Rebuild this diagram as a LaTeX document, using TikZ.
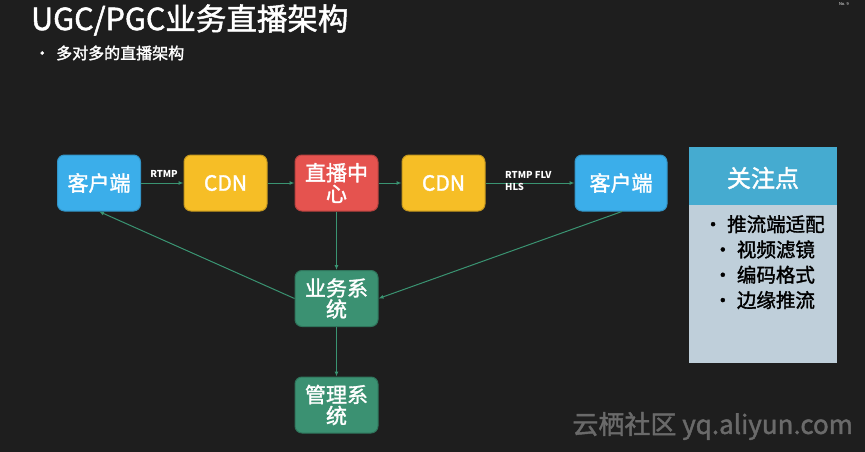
\documentclass[tikz,border=0pt]{standalone}
\usepackage{fontspec}
\setmainfont{Noto Sans CJK SC}
\newfontfamily\medfont{Noto Sans CJK SC}[FakeBold=1.6]
\usetikzlibrary{arrows.meta}
\definecolor{bgdark}{HTML}{1E1E1E}
\definecolor{clientblue}{HTML}{3BAEEA}
\definecolor{cdnyellow}{HTML}{F6BE26}
\definecolor{centerred}{HTML}{E5534F}
\definecolor{sysgreen}{HTML}{3B9172}
\definecolor{linkgreen}{HTML}{3A9472}
\definecolor{headblue}{HTML}{45ABD0}
\definecolor{bodygray}{HTML}{BFCFDA}
\definecolor{markgray}{HTML}{6A6A6A}

\begin{document}
\begin{tikzpicture}[x=1pt,y=-1pt,
    blk/.style={rounded corners=7pt,minimum width=83pt,minimum height=56pt,
      inner sep=0pt,align=center,text=white,font=\medfont\fontsize{21}{24}\selectfont,line width=1pt},
    client/.style={blk,fill=clientblue,draw=clientblue!85!black},
    cdn/.style={blk,fill=cdnyellow,draw=cdnyellow!80!black},
    hub/.style={blk,fill=centerred,draw=centerred!80!black},
    sys/.style={blk,fill=sysgreen,draw=sysgreen!80!black},
    link/.style={draw=linkgreen,line width=1pt,-{Latex[length=5pt,width=4pt]}},
    proto/.style={text=white,font=\fontsize{9.5}{11.5}\selectfont\bfseries,inner sep=0pt,align=left}]
  \fill[bgdark] (0,0) rectangle (865,452);
  % heading
  \node[anchor=west,text=white,font=\medfont\fontsize{30.5}{32}\selectfont,inner sep=0pt] (title) at (31,20) {UGC/PGC业务直播架构};
  \node[anchor=west,text=white,font=\medfont\fontsize{16}{17}\selectfont,inner sep=0pt] (sub) at (34,53) {•\hspace{6pt}多对多的直播架构};
  \node[anchor=east,text=white,font=\fontsize{4}{5}\selectfont,inner sep=0pt] (pageno) at (849,4) {No. 9};
  % chain of boxes
  \node[client] (cl) at (99,183) {客户端};
  \node[cdn] (cdna) at (225.5,183) {CDN};
  \node[hub] (hub) at (336.5,183) {直播中\\[-3pt]心};
  \node[cdn] (cdnb) at (443.5,183) {CDN};
  \node[client,minimum width=92pt] (cr) at (621,183) {客户端};
  \node[sys] (biz) at (336.5,298.5) {业务系\\[-3pt]统};
  \node[sys] (mgmt) at (336.5,405) {管理系\\[-3pt]统};
  % connectors
  \draw[link] (cl) -- (cdna);
  \draw[link] (cdna) -- (hub);
  \draw[link] (hub) -- (cdnb);
  \draw[link] (cdnb) -- (cr);
  \draw[link] (hub) -- (biz);
  \draw[link] (biz) -- (mgmt);
  \draw[link] (biz.west) -- (cl.south);
  \draw[link] ([xshift=1pt]cr.south) -- (biz.east);
  \node[proto] (rtmp) at (164,174) {RTMP};
  \node[proto,anchor=west] (pull) at (505,181) {RTMP FLV\\HLS};
  % focus panel
  \fill[headblue] (689,147) rectangle (837,205);
  \fill[bodygray] (689,205) rectangle (837,363);
  \node[text=white,font=\medfont\fontsize{24}{26}\selectfont,inner sep=0pt] (focus) at (763,178) {关注点};
  \node[text=black,font=\medfont\fontsize{19.5}{25.3}\selectfont,align=center,inner sep=0pt,anchor=north] (items) at (764,215)
    {• 推流端适配\\• 视频滤镜\\• 编码格式\\• 边缘推流};
  % watermark
  \node[anchor=east,text=markgray,font=\medfont\fontsize{26}{28}\selectfont,inner sep=0pt] (mark) at (853,426) {云栖社区 yq.aliyun.com};
\end{tikzpicture}
\end{document}
